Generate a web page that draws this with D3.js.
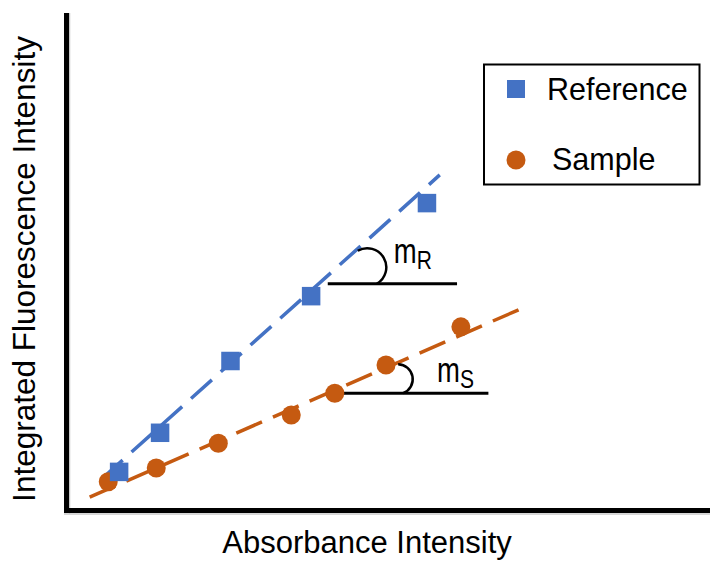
<!DOCTYPE html>
<html>
<head>
<meta charset="utf-8">
<script src="https://cdn.jsdelivr.net/npm/d3@7"></script>
<style>
  html, body { margin: 0; padding: 0; background: #fff; }
  svg { display: block; font-family: "Liberation Sans", Arial, Helvetica, sans-serif; }
</style>
</head>
<body>
<svg id="chart" width="710" height="561"></svg>
<script>
// data (arbitrary units)
var refAbs = [0.0083, 0.0147, 0.0257, 0.0383, 0.0564];
var refFluo = [7.7, 15.6, 30.1, 43.2, 62.0];
var smpAbs = [0.0066, 0.0141, 0.0238, 0.0352, 0.0420, 0.0500, 0.0617];
var smpFluo = [5.7, 8.5, 13.5, 19.2, 23.6, 29.3, 37.0];

// dashed fit lines, start and end
var refFitAbs = [0.0056, 0.0584];
var refFitFluo = [6.3, 67.7];
var smpFitAbs = [0.0037, 0.0717];
var smpFitFluo = [2.6, 41.0];

// slope markers: horizontal segment [x0, x1], level
var slopeNames = ["R", "S"];
var slopeAbs = [[0.0409, 0.0611], [0.0433, 0.0660]];
var slopeFluo = [45.7, 23.6];

var legendLabels = ["Reference", "Sample"];
var xTitle = "Absorbance Intensity";
var yTitle = "Integrated Fluorescence Intensity";

var blue = "#4472C4", orange = "#C55A11";

var svg = d3.select("#chart");

var x = d3.scaleLinear().domain([0, 0.1]).range([66, 706]);
var y = d3.scaleLinear().domain([0, 100]).range([510, 15]);

// axes (no ticks), with the faint grey shadow
svg.append("line").attr("x1", 69.5).attr("x2", 69.5).attr("y1", 13).attr("y2", 514)
   .attr("stroke", "#c8c8c8").attr("stroke-width", 1.5);
svg.append("line").attr("x1", 64).attr("x2", 710).attr("y1", 514).attr("y2", 514)
   .attr("stroke", "#c8c8c8").attr("stroke-width", 1.5);
svg.append("line").attr("x1", 66.5).attr("x2", 66.5).attr("y1", 13).attr("y2", 513)
   .attr("stroke", "#000").attr("stroke-width", 5);
svg.append("line").attr("x1", 64).attr("x2", 710).attr("y1", 510.5).attr("y2", 510.5)
   .attr("stroke", "#000").attr("stroke-width", 5);

// fit lines
function fitLine(xs, ys, color) {
  svg.append("line")
     .attr("x1", x(xs[0])).attr("y1", y(ys[0]))
     .attr("x2", x(xs[1])).attr("y2", y(ys[1]))
     .attr("stroke", color).attr("stroke-width", 3.5)
     .attr("stroke-dasharray", "28,12");
}
fitLine(refFitAbs, refFitFluo, blue);
fitLine(smpFitAbs, smpFitFluo, orange);

// slope markers
slopeNames.forEach(function(n, i) {
  var x0 = x(slopeAbs[i][0]), x1 = x(slopeAbs[i][1]), yy = y(slopeFluo[i]);
  svg.append("line").attr("x1", x0).attr("x2", x1).attr("y1", yy).attr("y2", yy)
     .attr("stroke", "#000").attr("stroke-width", 3);
  var p;
  if (i == 0) p = "M" + (x0 + 30) + "," + (yy - 33) + " A19,19 0 0,1 " + (x0 + 49) + "," + yy;
  else p = "M" + (x0 + 55) + "," + (yy - 29) + " A15,15 0 0,1 " + (x0 + 60) + "," + yy;
  svg.append("path").attr("d", p).attr("fill", "none").attr("stroke", "#000").attr("stroke-width", 2.5);

  var tx = i == 0 ? x0 + 66 : x0 + 94, ty = i == 0 ? yy - 21 : yy - 11;
  var t = svg.append("text").attr("transform", "translate(" + tx + "," + ty + ") scale(1,1.25)")
     .attr("font-size", 27.5).attr("fill", "#000");
  t.append("tspan").text("m");
  t.append("tspan").attr("font-size", 21).attr("dy", 5).text(n);
});

// sample points
svg.selectAll("circle.smp").data(smpAbs).enter().append("circle")
   .attr("class", "smp")
   .attr("cx", function(d) { return x(d); })
   .attr("cy", function(d, i) { return y(smpFluo[i]); })
   .attr("r", 9.5).attr("fill", orange);

// reference points
var sq = 18.5;
svg.selectAll("rect.ref").data(refAbs).enter().append("rect")
   .attr("class", "ref")
   .attr("x", function(d) { return x(d) - sq / 2; })
   .attr("y", function(d, i) { return y(refFluo[i]) - sq / 2; })
   .attr("width", sq).attr("height", sq).attr("fill", blue);

// legend
var lg = svg.append("g");
lg.append("rect").attr("x", 484).attr("y", 64.5).attr("width", 215.5).attr("height", 120)
  .attr("fill", "#fff").attr("stroke", "#000").attr("stroke-width", 2);
lg.append("rect").attr("x", 507).attr("y", 80).attr("width", 18).attr("height", 18).attr("fill", blue);
lg.append("circle").attr("cx", 516).attr("cy", 160).attr("r", 9.5).attr("fill", orange);
lg.append("text").attr("x", 547).attr("y", 100).attr("font-size", 30.5).text(legendLabels[0]);
lg.append("text").attr("x", 552).attr("y", 170).attr("font-size", 30.5).text(legendLabels[1]);

// axis titles
svg.append("text").attr("x", 367).attr("y", 553).attr("text-anchor", "middle")
   .attr("font-size", 31).text(xTitle);
svg.append("text").attr("transform", "translate(35,269) rotate(-90)")
   .attr("text-anchor", "middle").attr("font-size", 31.5).text(yTitle);
</script>
</body>
</html>
